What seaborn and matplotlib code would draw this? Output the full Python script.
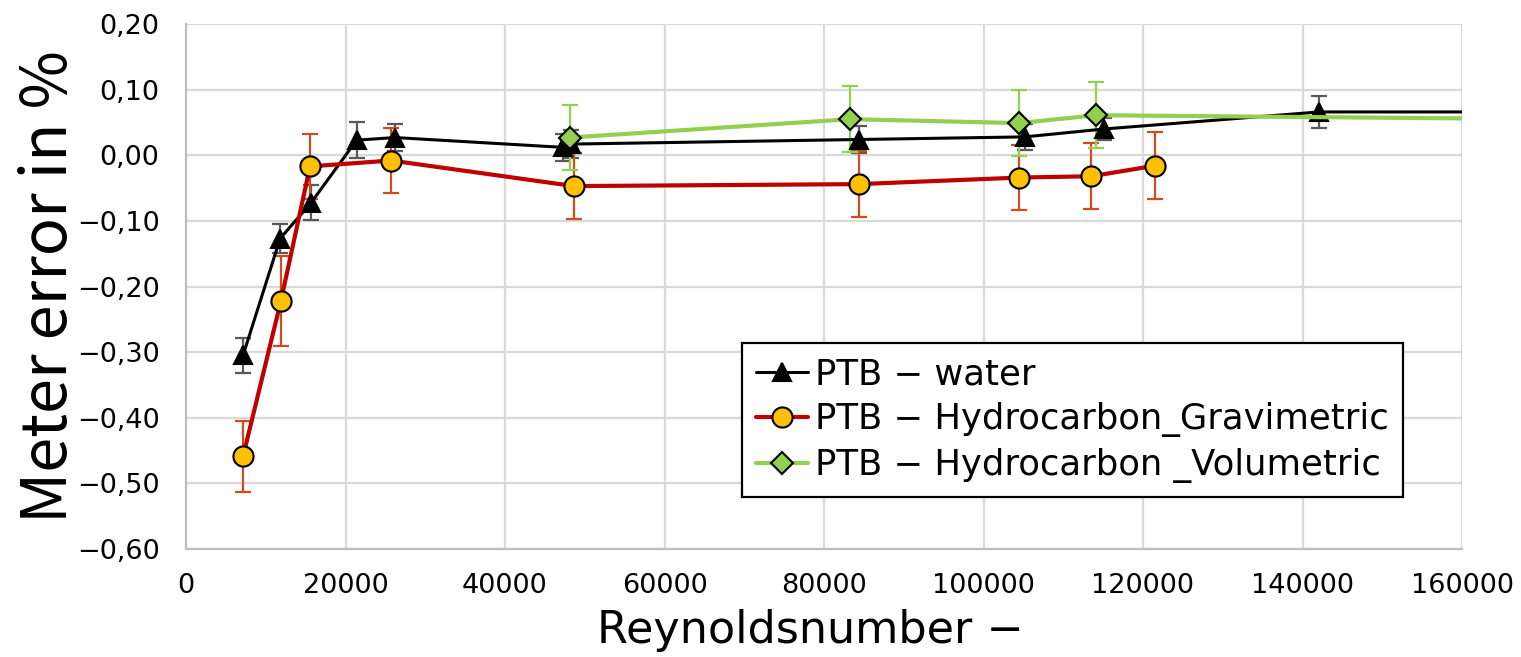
import matplotlib
matplotlib.use("Agg")
import matplotlib.pyplot as plt
from matplotlib.ticker import FuncFormatter, MultipleLocator
import numpy as np
import pandas as pd
import seaborn as sns

# Reynolds number and meter error (%) per test series
water_re = [7150, 11800, 15700, 21400, 26200, 47300, 48300, 84400, 105200, 115100, 142100, 190000]
water_err = [-0.305, -0.127, -0.072, 0.023, 0.027, 0.012, 0.017, 0.024, 0.028, 0.040, 0.066, 0.066]
water_unc = [0.027, 0.022, 0.027, 0.027, 0.020, 0.021, 0.021, 0.021, 0.020, 0.017, 0.024, 0.024]

grav_re = [7150, 11900, 15550, 25700, 48650, 84400, 104500, 113500, 121500]
grav_err = [-0.459, -0.222, -0.017, -0.008, -0.047, -0.044, -0.034, -0.032, -0.016]
grav_unc = [0.054, 0.068, 0.050, 0.050, 0.050, 0.050, 0.050, 0.050, 0.051]

vol_re = [48200, 83300, 104500, 114100, 190000]
vol_err = [0.027, 0.055, 0.049, 0.061, 0.053]
vol_unc = [0.050, 0.050, 0.050, 0.050, 0.050]

labels = ["PTB − water", "PTB − Hydrocarbon_Gravimetric", "PTB − Hydrocarbon _Volumetric"]
x_label = "Reynoldsnumber −"
y_label = "Meter error in %"

sns.set_theme(style="whitegrid")
plt.rcParams["font.family"] = ["DejaVu Sans"]
plt.rcParams["axes.unicode_minus"] = True
plt.rcParams["text.color"] = "#000000"

fig = plt.figure(figsize=(15.21, 6.57), dpi=100)
ax = fig.add_axes([186 / 1521, 1 - 549 / 657, 1276 / 1521, 525 / 657])

series = [
    dict(x=water_re, y=water_err, e=water_unc, label=labels[0], line="#000000",
         marker="^", face="#000000", ecolor="#595959", lw=2.2, ms=13),
    dict(x=grav_re, y=grav_err, e=grav_unc, label=labels[1], line="#C00000",
         marker="o", face="#FFC000", ecolor="#D24A1E", lw=3.0, ms=14.5),
    dict(x=vol_re, y=vol_err, e=vol_unc, label=labels[2], line="#92D050",
         marker="D", face="#92D050", ecolor="#92D050", lw=3.0, ms=11),
]

for s in series:
    ax.errorbar(s["x"], s["y"], yerr=s["e"], fmt="none", ecolor=s["ecolor"],
                elinewidth=1.6, capsize=5.5, capthick=1.6, zorder=2)
    df = pd.DataFrame({"Re": s["x"], "err": s["y"]})
    sns.lineplot(data=df, x="Re", y="err", ax=ax, color=s["line"], linewidth=s["lw"],
                 marker=s["marker"], markersize=s["ms"], markerfacecolor=s["face"],
                 markeredgecolor="#000000", markeredgewidth=1.5, label=s["label"],
                 zorder=3, estimator=None, sort=False)

ax.set_xlim(0, 160000)
ax.set_ylim(-0.60, 0.20)
ax.xaxis.set_major_locator(MultipleLocator(20000))
ax.yaxis.set_major_locator(MultipleLocator(0.10))
ax.yaxis.set_major_formatter(FuncFormatter(
    lambda v, p: ("−" if v < -1e-9 else "") + f"{abs(v):.2f}".replace(".", ",")))
ax.xaxis.set_major_formatter(FuncFormatter(lambda v, p: f"{int(round(v))}"))
ax.tick_params(axis="both", length=0, labelsize=19.5, colors="#000000")
ax.tick_params(axis="y", pad=19)
ax.tick_params(axis="x", pad=17)

ax.grid(True, color="#D9D9D9", linewidth=1.6)
ax.set_axisbelow(True)
for side in ["top", "right"]:
    ax.spines[side].set_visible(False)
for side in ["left", "bottom"]:
    ax.spines[side].set_color("#BFBFBF")
    ax.spines[side].set_linewidth(1.6)

ax.set_xlabel("")
ax.set_ylabel("")
fig.text(49 / 1521, 1 - 287 / 657, y_label, rotation=90, ha="center", va="center",
         fontsize=45.5, family=["Noto Sans CJK KR", "DejaVu Sans"])
fig.text(810 / 1521, 1 - 630 / 657, x_label, ha="center", va="center", fontsize=32)

leg = ax.legend(loc="upper left", bbox_to_anchor=((742 - 186) / 1276, (549 - 343) / 525),
                fontsize=25.5, frameon=True, fancybox=False, framealpha=1,
                edgecolor="#000000", handlelength=1.45, handletextpad=0.22,
                borderpad=0.4, labelspacing=0.31, borderaxespad=0)
leg.get_frame().set_linewidth(1.6)

fig.savefig("out.png", dpi=100)
